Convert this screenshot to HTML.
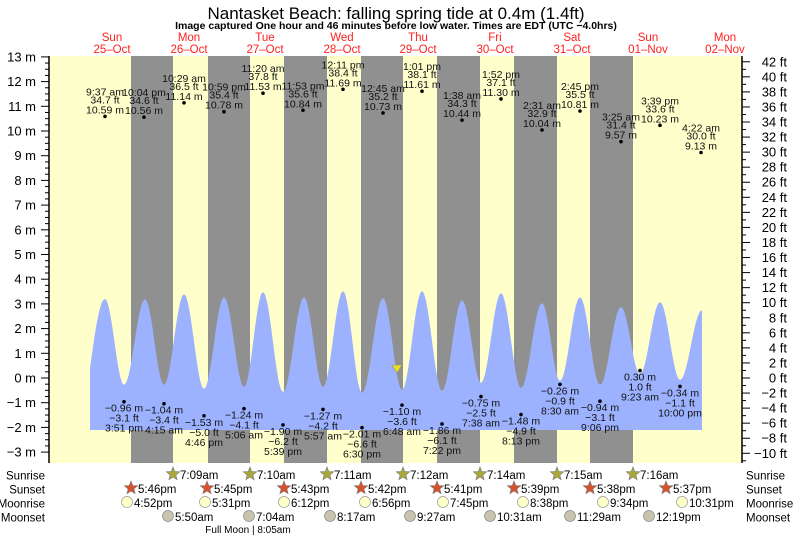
<!DOCTYPE html>
<html><head><meta charset="utf-8"><style>
html,body{margin:0;padding:0;background:#fff;}
svg{display:block;font-family:"Liberation Sans",sans-serif;}
</style></head><body>
<svg id="s" width="793" height="537" viewBox="0 0 793 537" xmlns="http://www.w3.org/2000/svg"></svg>
<script>
var s=document.getElementById('s'),h='';
function Y(m){return 378-m*24.7;}
h+='<rect x="49" y="56" width="693" height="407" fill="#ffffcc"/>';
var nights=[[131,173],[208,250],[284,327],[361,403],[437,480],[514,557],[590,633]];
nights.forEach(function(n){h+='<rect x="'+n[0]+'" y="56" width="'+(n[1]-n[0])+'" height="407" fill="#909090"/>';});
var pts=[[105,299],[124,385],[145,299],[164,385],[184,294],[204,389],[224,297],[244,387],[263,292],[283,392],[304,297],[323,387],[343,291],[362,393],[383,298],[402,390],[422,291],[442,391],[462,300],[481,383],[501,293],[521,388],[542,303],[560,381],[580,297],[600,385],[621,307],[640,374],[660,302],[680,380],[702,310]];
var d='M90,430 L90,368 ';
for(var x=90;x<=105;x++){var t=(x-90)/15;var y=368+(299-368)*Math.sin(t*Math.PI/2);d+='L'+x+','+y.toFixed(1)+' ';}
for(var i=0;i<pts.length-1;i++){var a=pts[i],b=pts[i+1];for(var k=1;k<=10;k++){var t=k/10;var xx=a[0]+(b[0]-a[0])*t;var yy=a[1]+(b[1]-a[1])*(1-Math.cos(Math.PI*t))/2;d+='L'+xx.toFixed(1)+','+yy.toFixed(1)+' ';}}
d+='L702,430 Z';
h+='<path d="'+d+'" fill="#9db2ff"/>';
h+='<line x1="49" y1="56" x2="49" y2="463" stroke="#000" stroke-width="1.5"/>';
h+='<line x1="742" y1="56" x2="742" y2="463" stroke="#000" stroke-width="1.5"/>';
for(var m=-3;m<=13;m++){var y=Y(m);h+='<line x1="41" y1="'+y+'" x2="49" y2="'+y+'" stroke="#000"/>';h+='<text x="36" y="'+(y+4.5)+'" font-size="13" text-anchor="end">'+(m<0?'\u2212'+(-m):m)+' m</text>';
 if(m<13)for(var q=1;q<4;q++){var yq=Y(m+q/4);h+='<line x1="45" y1="'+yq+'" x2="49" y2="'+yq+'" stroke="#000"/>';}}
for(var f=-11;f<=43;f++){var y=378-f*7.529;if(y<56||y>463)continue;
 if(f%2==0){h+='<line x1="742" y1="'+y+'" x2="750" y2="'+y+'" stroke="#000"/>';h+='<text x="787" y="'+(y+4.5)+'" font-size="13" text-anchor="end">'+(f<0?'\u2212'+(-f):f)+' ft</text>';}
 else h+='<line x1="742" y1="'+y+'" x2="746" y2="'+y+'" stroke="#000"/>';}
h+='<text x="396" y="19" font-size="17" text-anchor="middle">Nantasket Beach: falling  spring tide at 0.4m (1.4ft)</text>';
h+='<text x="396" y="29" font-size="10.5" font-weight="bold" text-anchor="middle">Image captured One hour and 46 minutes before low water. Times are EDT (UTC \u22124.0hrs)</text>';
var days=[['Sun','25\u2013Oct',112],['Mon','26\u2013Oct',189],['Tue','27\u2013Oct',265],['Wed','28\u2013Oct',342],['Thu','29\u2013Oct',418],['Fri','30\u2013Oct',495],['Sat','31\u2013Oct',572],['Sun','01\u2013Nov',648],['Mon','02\u2013Nov',725]];
days.forEach(function(q){h+='<text x="'+q[2]+'" y="41" font-size="11.5" fill="#ff2020" text-anchor="middle">'+q[0]+'</text><text x="'+q[2]+'" y="53" font-size="11.5" fill="#ff2020" text-anchor="middle">'+q[1]+'</text>';});
var hi=[['9:37 am','34.7 ft','10.59',105],['10:04 pm','34.6 ft','10.56',144],['10:29 am','36.5 ft','11.14',184],['10:59 pm','35.4 ft','10.78',224],['11:20 am','37.8 ft','11.53',263],['11:53 pm','35.6 ft','10.84',303],['12:11 pm','38.4 ft','11.69',343],['12:45 am','35.2 ft','10.73',383],['1:01 pm','38.1 ft','11.61',422],['1:38 am','34.3 ft','10.44',462],['1:52 pm','37.1 ft','11.30',501],['2:31 am','32.9 ft','10.04',542],['2:45 pm','35.5 ft','10.81',580],['3:25 am','31.4 ft','9.57',621],['3:39 pm','33.6 ft','10.23',660],['4:22 am','30.0 ft','9.13',701]];
hi.forEach(function(q){var y=Y(parseFloat(q[2]));h+='<circle cx="'+q[3]+'" cy="'+y+'" r="1.8"/>';
 h+='<text font-size="10.5" text-anchor="middle" fill="#111"><tspan x="'+q[3]+'" y="'+(y-21)+'">'+q[0]+'</tspan><tspan x="'+q[3]+'" y="'+(y-13)+'">'+q[1]+'</tspan><tspan x="'+q[3]+'" y="'+(y-3)+'">'+q[2]+' m</tspan></text>';});
var lo=[['-0.96','-3.1','3:51 pm',124],['-1.04','-3.4','4:15 am',164],['-1.53','-5.0','4:46 pm',204],['-1.24','-4.1','5:06 am',244],['-1.90','-6.2','5:39 pm',283],['-1.27','-4.2','5:57 am',323],['-2.01','-6.6','6:30 pm',362],['-1.10','-3.6','6:48 am',402],['-1.86','-6.1','7:22 pm',442],['-0.75','-2.5','7:38 am',481],['-1.48','-4.9','8:13 pm',521],['-0.26','-0.9','8:30 am',560],['-0.94','-3.1','9:06 pm',600],['0.30','1.0','9:23 am',640],['-0.34','-1.1','10:00 pm',680]];
lo.forEach(function(q){var y=Y(parseFloat(q[0]));h+='<circle cx="'+q[3]+'" cy="'+y+'" r="1.8"/>';
 h+='<text font-size="10.5" text-anchor="middle" fill="#111"><tspan x="'+q[3]+'" y="'+(y+10)+'">'+q[0].replace('-','\u2212')+' m</tspan><tspan x="'+q[3]+'" y="'+(y+20)+'">'+q[1].replace('-','\u2212')+' ft</tspan><tspan x="'+q[3]+'" y="'+(y+30)+'">'+q[2]+'</tspan></text>';});
h+='<polygon points="392,365 402,365 397,373" fill="#e8e020" stroke="#888" stroke-width="0.6"/>';
var rows=[['Sunrise',475],['Sunset',489],['Moonrise',503],['Moonset',517]];
rows.forEach(function(r){h+='<text x="45" y="'+(r[1]+4.5)+'" font-size="11.5" text-anchor="end">'+r[0]+'</text><text x="746" y="'+(r[1]+4.5)+'" font-size="11.5">'+r[0]+'</text>';});
function star(cx,cy,fill){var p='';for(var i=0;i<10;i++){var r=i%2?3:7,a=-Math.PI/2+i*Math.PI/5;p+=(cx+r*Math.cos(a)).toFixed(1)+','+(cy+r*Math.sin(a)).toFixed(1)+' ';}return '<polygon points="'+p+'" fill="'+fill+'" stroke="#777" stroke-width="0.6"/>';}
var sr=[[173,'7:09am'],[250,'7:10am'],[327,'7:11am'],[403,'7:12am'],[480,'7:14am'],[557,'7:15am'],[633,'7:16am']];
sr.forEach(function(q){h+=star(q[0],474,'#a8a838')+'<text x="'+(q[0]+7)+'" y="479" font-size="11.5">'+q[1]+'</text>';});
var ss=[[131,'5:46pm'],[207,'5:45pm'],[284,'5:43pm'],[361,'5:42pm'],[437,'5:41pm'],[514,'5:39pm'],[590,'5:38pm'],[666,'5:37pm']];
ss.forEach(function(q){h+=star(q[0],488,'#d8502c')+'<text x="'+(q[0]+7)+'" y="493" font-size="11.5">'+q[1]+'</text>';});
var mr=[[127,'4:52pm'],[205,'5:31pm'],[284,'6:12pm'],[365,'6:56pm'],[443,'7:45pm'],[523,'8:38pm'],[603,'9:34pm'],[682,'10:31pm']];
mr.forEach(function(q){h+='<circle cx="'+q[0]+'" cy="502" r="5.5" fill="#ffffc8" stroke="#999" stroke-width="0.7"/><text x="'+(q[0]+7)+'" y="507" font-size="11.5">'+q[1]+'</text>';});
var ms=[[168,'5:50am'],[249,'7:04am'],[330,'8:17am'],[410,'9:27am'],[490,'10:31am'],[570,'11:29am'],[649,'12:19pm']];
ms.forEach(function(q){h+='<circle cx="'+q[0]+'" cy="516" r="5.5" fill="#c8c4b0" stroke="#888" stroke-width="0.7"/><text x="'+(q[0]+7)+'" y="521" font-size="11.5">'+q[1]+'</text>';});
h+='<text x="248" y="533" font-size="10" text-anchor="middle">Full Moon | 8:05am</text>';
s.innerHTML=h;
</script>
</body></html>
